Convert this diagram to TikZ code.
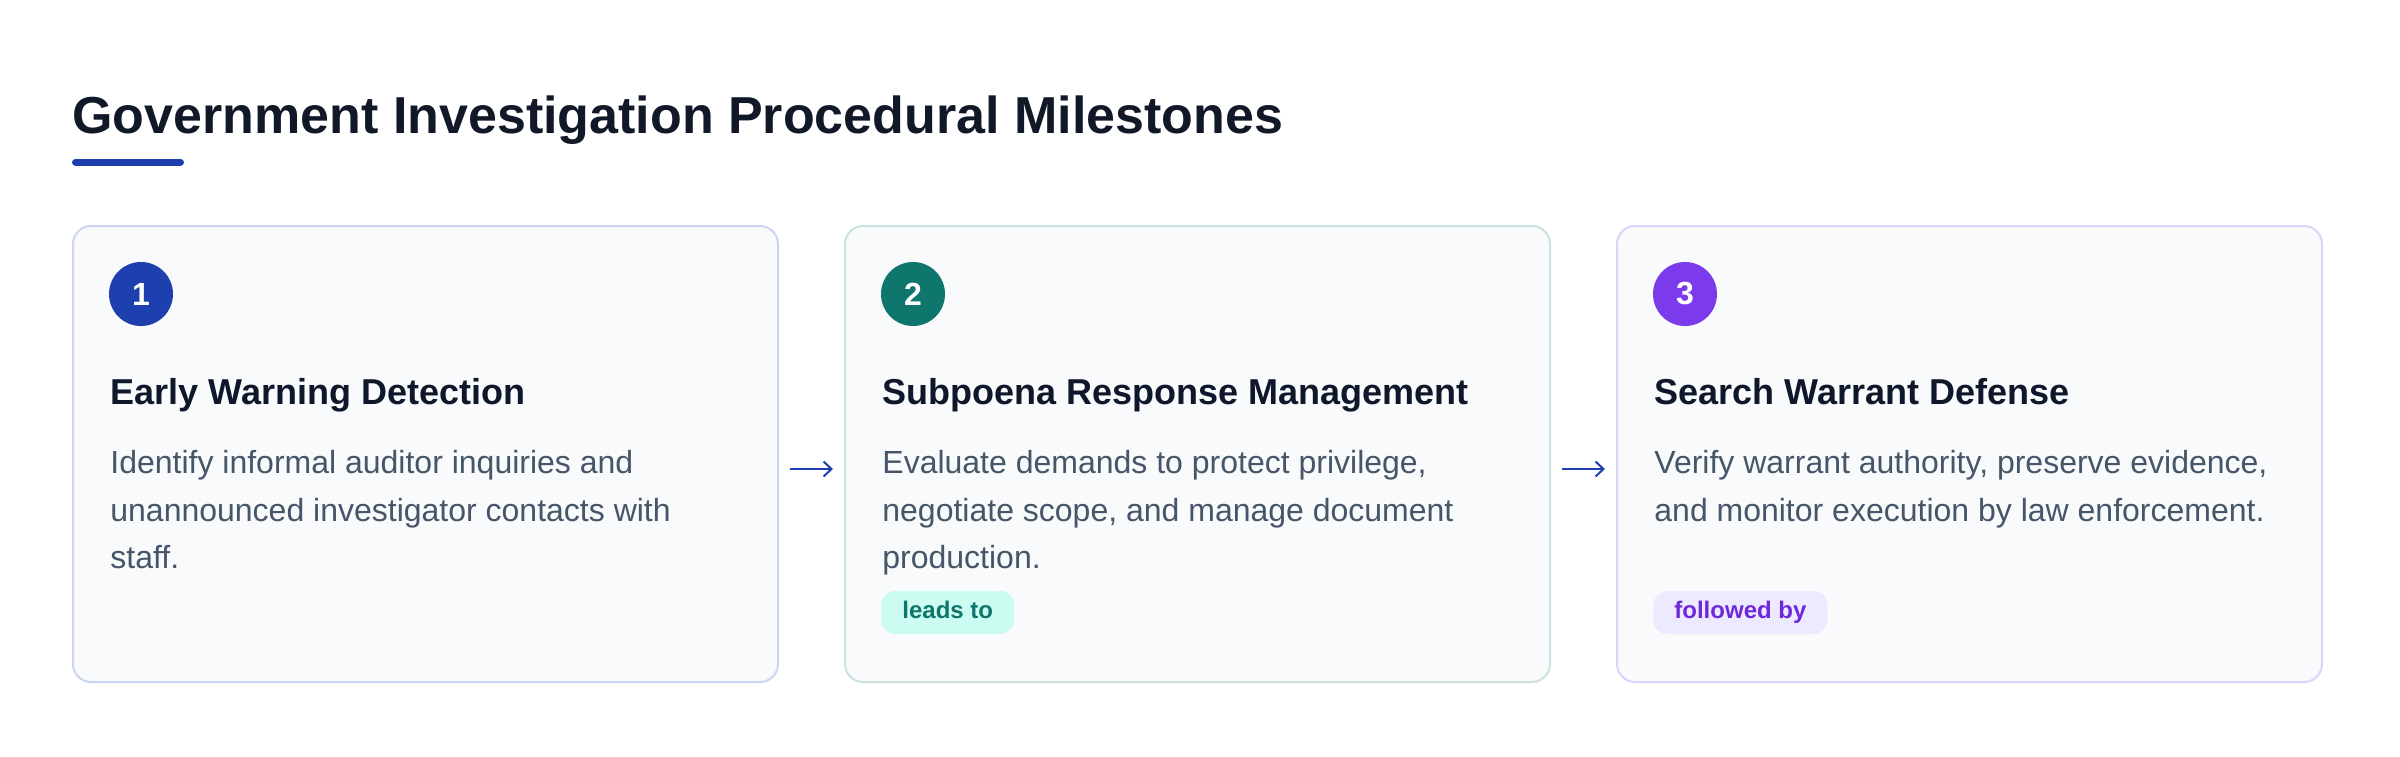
\documentclass[tikz,border=0pt]{standalone}
\usepackage{fontspec}
\setmainfont{Liberation Sans}
\usetikzlibrary{positioning,arrows.meta}

\definecolor{titletext}{HTML}{111827}
\definecolor{headtext}{HTML}{0F172A}
\definecolor{bodytext}{HTML}{475569}
\definecolor{cardbg}{HTML}{F8FAFC}
\definecolor{accentblue}{HTML}{1E40AF}
\definecolor{accentteal}{HTML}{0F766E}
\definecolor{accentviolet}{HTML}{7C3AED}
\definecolor{borderblue}{HTML}{CDD5F3}
\definecolor{borderteal}{HTML}{C9E2DF}
\definecolor{borderviolet}{HTML}{DCD3FB}
\definecolor{tagtealbg}{HTML}{CCFBF1}
\definecolor{tagvioletbg}{HTML}{EDE9FE}
\definecolor{tagviolettext}{HTML}{6D28D9}

\begin{document}
\begin{tikzpicture}[x=0.5pt,y=-0.5pt,>={Straight Barb[length=4pt,width=7.5pt]}]

    % Define node styles
    \tikzstyle{card} = [draw, rounded corners=9pt, line width=1pt, fill=cardbg, minimum width=352.5pt, minimum height=228pt, inner sep=0pt]
    \tikzstyle{num} = [circle, minimum size=32pt, inner sep=0pt, text=white, font=\fontsize{16}{19}\selectfont\bfseries]
    \tikzstyle{head} = [anchor=base west, inner sep=0pt, text=headtext, font=\fontsize{18}{22}\selectfont\bfseries]
    \tikzstyle{body} = [anchor=north west, inner sep=0pt, align=left, text=bodytext, font=\fontsize{16}{23.75}\selectfont]
    \tikzstyle{tag} = [anchor=west, rounded corners=7pt, minimum height=21.5pt, text height=0.8em, text depth=0.21em, inner xsep=10.5pt, inner ysep=0pt, font=\fontsize{12}{14}\selectfont\bfseries]
    \tikzstyle{link} = [->, line width=1pt, draw=accentblue, shorten <=5.5pt, shorten >=5.5pt]

    \useasboundingbox (0,0) rectangle (2400,756);

    % Title
    \node [anchor=base west, inner sep=0pt, text=titletext, font=\fontsize{26}{30}\selectfont\bfseries] (title) at (72,133) {Government Investigation Procedural Milestones};
    \draw [line width=3.5pt, line cap=round, accentblue] (75.5,162) -- (180.5,162);

    % Draw nodes
    \node [card, draw=borderblue, anchor=north west] (early) at (72,225) {};
    \node [card, draw=borderteal, right=32.5pt of early] (subpoena) {};
    \node [card, draw=borderviolet, right=32.5pt of subpoena] (warrant) {};

    \node [num, fill=accentblue] (n1) at ([shift={(69,69)}]early.north west) {1};
    \node [num, fill=accentteal] (n2) at ([shift={(69,69)}]subpoena.north west) {2};
    \node [num, fill=accentviolet] (n3) at ([shift={(69,69)}]warrant.north west) {3};

    \node [head] (h1) at ([shift={(38,179)}]early.north west) {Early Warning Detection};
    \node [head] (h2) at ([shift={(38,179)}]subpoena.north west) {Subpoena Response Management};
    \node [head] (h3) at ([shift={(38,179)}]warrant.north west) {Search Warrant Defense};

    \node [body] (b1) at ([shift={(38,225)}]early.north west) {Identify informal auditor inquiries and\\unannounced investigator contacts with\\staff.};
    \node [body] (b2) at ([shift={(38,225)}]subpoena.north west) {Evaluate demands to protect privilege,\\negotiate scope, and manage document\\production.};
    \node [body] (b3) at ([shift={(38,225)}]warrant.north west) {Verify warrant authority, preserve evidence,\\and monitor execution by law enforcement.};

    \node [tag, fill=tagtealbg, text=accentteal] (leads) at ([shift={(37,387.5)}]subpoena.north west) {leads to};
    \node [tag, fill=tagvioletbg, text=tagviolettext] (followed) at ([shift={(37,387.5)}]warrant.north west) {followed by};

    % Draw arrows
    \draw [link] ([yshift=-7.5pt]early.east) -- ([yshift=-7.5pt]subpoena.west);
    \draw [link] ([yshift=-7.5pt]subpoena.east) -- ([yshift=-7.5pt]warrant.west);

\end{tikzpicture}
\end{document}
